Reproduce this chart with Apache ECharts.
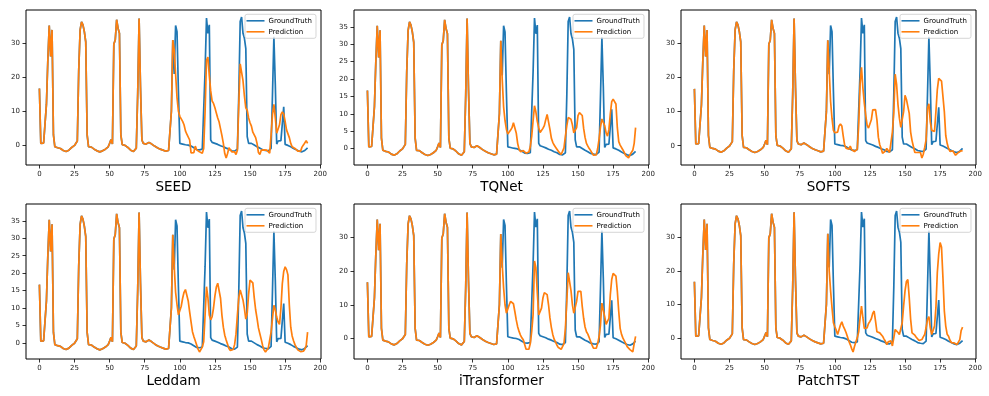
<!DOCTYPE html>
<html lang="en">
<head>
<meta charset="UTF-8">
<title>GroundTruth vs Prediction</title>
<style>
    html, body { margin: 0; padding: 0; background: #fff; }
    #chart { width: 989px; height: 396px; }
</style>
</head>
<body>
<div id="chart"></div>
<script src="https://cdn.jsdelivr.net/npm/echarts@6/dist/echarts.min.js"></script>
<script>
    var models = ['SEED', 'TQNet', 'SOFTS', 'Leddam', 'iTransformer', 'PatchTST'];
    var xTicks = [0, 25, 50, 75, 100, 125, 150, 175, 200];
    var yTickSteps = [10, 5, 10, 5, 10, 10];

    // input window, steps 0..95 (prediction line overlaps ground truth here)
    var lookback = [
        16.7, 0.5, 0.4, 0.6, 0.9, 12, 25, 35.3, 26.2, 34, 3, -0.5,
        -0.6, -0.8, -0.9, -1.0, -1.3, -1.6, -1.8, -1.9, -1.8, -1.5, -1.0, -0.7,
        -0.4, -0.1, 0.4, 1.2, 22, 34, 36.4, 35.5, 33.5, 30.5, 3, -0.5,
        -0.5, -0.6, -0.9, -1.2, -1.5, -1.7, -1.9, -2.0, -1.9, -1.7, -1.5, -1.2,
        -0.9, -0.5, 0.5, 1.6, 0.3, 29.8, 31, 37, 34.5, 33, 3, 0.1,
        0.0, -0.1, -0.3, -0.7, -1.1, -1.5, -1.8, -1.9, -1.6, -0.9, 15, 37.4,
        17, 1.5, 0.5, 0.6, 0.3, 0.5, 0.8, 0.6, 0.3, 0.0, -0.3, -0.5,
        -0.8, -1.0, -1.2, -1.4, -1.5, -1.7, -1.8, -1.8, -1.6, -1.2, 10, 31
    ];

    // steps 96..191
    var truthFuture = [
        21, 35.3, 33.5, 16, 0.5, 0.4, 0.3, 0.3, 0.1, 0.2, 0.0, -0.2,
        -0.3, -0.5, -0.8, -1.0, -1.3, -1.5, -1.4, -1.5, -1.2, -0.8, 22, 37.5,
        33, 35.5, 1.5, 0.8, 0.6, 0.5, 0.3, 0.2, 0.0, -0.2, -0.3, -0.5,
        -0.6, -0.9, -1.1, -1.2, -1.3, -1.7, -1.8, -1.8, -1.6, -1.2, 15, 36.5,
        37.8, 33, 31.5, 28.5, 2.5, 0.5, 0.6, 0.5, 0.3, 0.0, -0.2, -0.5,
        -0.7, -0.9, -1.1, -1.4, -1.5, -1.6, -1.7, -1.7, -1.5, -1.0, 15, 32,
        18, 0.3, 1.2, 1.0, 1.3, 1.2, 11.3, 0.2, 0.0, -0.1, -0.3, -0.5,
        -0.8, -1.0, -1.2, -1.4, -1.6, -1.8, -2.0, -2.0, -1.9, -1.6, -1.2, -0.8
    ];

    var seedPred = [
        28, 21, 14, 10, 8.5, 8.5, 7, 6, 4.2, 3.2, 3, 1.5,
        -2.3, -2.8, -2.2, -0.3, -1.4, -1.5, -2, -1.5, -2.4, -1, 10, 25,
        26, 20.5, 16, 13, 12.3, 11, 9.5, 8, 6.8, 4.8, 2.8, 0.5,
        -2.5, -3.8, -2.5, -0.8, -1, -2, -1.8, -2, -2.8, -1.5, 12, 24,
        23.5, 19, 14.5, 11, 10.3, 8, 6.6, 5.6, 3.8, 4, 2.2, 0.5,
        -2.2, -2.8, -1.5, -1.5, -1.4, -1.5, -1.5, -1.8, -2.4, 3, 9, 12,
        8, 3.5, 3.4, 6, 9, 9.8, 9.2, 7, 4.5, 4.6, 2.2, 0.5,
        -0.5, -0.7, -1, -1.3, -1.8, -2, -1.8, -0.6, 0, 0.5, 1.3, 0.5
    ];

    var tqnetPred = [
        20, 12, 8, 5.5, 4.2, 4.6, 5.3, 6, 7.4, 7.2, 4.5, 1.5,
        -0.2, -0.9, -1.3, -0.6, -1.0, -1.3, -1.5, -1.0, 0.5, 3.5, 8, 12.3,
        10.5, 7.8, 6, 4.6, 4.8, 5.8, 6.6, 8.3, 9.8, 9.6, 5.5, 3,
        1.8, 1.0, 0.4, -0.2, -0.8, -1.3, -1.7, -1.5, 0.2, 3.5, 6.5, 8.9,
        8.7, 8.4, 6.8, 4.5, 4.2, 6, 9.5, 10.3, 9.8, 9.5, 5.8, 3.2,
        1.5, 0.7, 0, -0.6, -1.3, -1.9, -2.4, -1.8, 0, 2.8, 6.2, 8.5,
        8.9, 6.6, 4.5, 3.6, 5.5, 10, 13.5, 14.2, 13.7, 12.8, 6, 2,
        1, 0.7, -0.4, -1.2, -2, -2.5, -2.7, -1.8, -1.5, -0.5, 1.5, 6
    ];

    var softsPred = [
        22, 13, 8, 4.5, 3.8, 3.7, 4, 5.8, 6.4, 5.8, 2.8, 0.2,
        -0.7, -0.8, -1.0, -0.1, -1.2, -1.7, -1.7, -1.3, -1.0, 6, 18, 23,
        17, 12.5, 9, 6, 5.2, 5.3, 7.6, 10.5, 10.3, 10.6, 7.6, 2.5,
        0.3, -0.8, -2.2, -2.1, -1.6, -0.8, -1.2, -2.0, -1.5, 4, 9.6, 21,
        18, 12, 8.1, 5.4, 5.7, 10, 14.8, 13.6, 13.8, 9.5, 4, 1.5,
        -0.3, -2.0, -2.2, -2.0, -2.4, -2.0, -3.6, -2.5, -0.5, 1.7, 11, 12.3,
        7, 4.5, 4.0, 4.2, 10, 16.5, 19.8, 19.5, 19, 18.6, 10, 3,
        0.7, -0.8, -1.7, -1.3, -1.5, -2, -2.8, -3.1, -2, -1.6, -1.5, -1.5
    ];

    var leddamPred = [
        22, 14.5, 11, 8, 7.5, 10.5, 12.8, 14.5, 15.3, 15.4, 12, 8.9,
        6, 3.2, 1.8, 0.6, -0.6, -1.8, -2.6, -2.3, -1.2, 0.3, 8, 16.1,
        13, 8, 6.6, 7.5, 10, 13.5, 16, 17.1, 16.8, 12.8, 7.9, 4.5,
        2.2, 0.8, -0.4, -1.6, -2.2, -2.4, -1.9, -0.5, 2.5, 8, 13, 15.2,
        15.2, 12.3, 9.8, 6.8, 8.5, 14, 18, 18.5, 17.2, 13, 9.5, 7,
        4.3, 2.6, 1, -0.8, -2, -2.6, -2.6, -1.5, 0.8, 3.1, 7, 10.8,
        9.5, 7.4, 6, 5.3, 9.9, 17, 20.5, 21.8, 21, 19.5, 10.8, 4.5,
        2, 0.6, -0.5, -1.3, -2.0, -2.4, -2.5, -2.5, -2.4, -1.8, -0.8, 3.1
    ];

    var itransformerPred = [
        22, 15, 10, 7.5, 7.5, 10, 11, 11.1, 10.3, 8, 5.5, 3.5,
        2.1, 1.0, 0.2, -0.4, -1.8, -3.2, -3.7, -3.2, -1.5, 2, 7, 23,
        21, 13.5, 7, 7, 9, 12, 13.6, 13.6, 13, 10, 6.1, 3.3,
        1.2, -0.2, -1.1, -2, -2.7, -3.0, -3.2, -3.4, -1.5, 3, 11, 19.5,
        19, 14.2, 10, 7.5, 7.5, 11, 14, 14.5, 14, 9.5, 6, 3.4,
        2, 1.3, 0.2, -0.3, -2, -2.9, -2.9, -2.9, -1.5, 0.5, 4, 10.5,
        10, 6.5, 4.2, 3.9, 6, 13, 17.5, 19.3, 19.2, 18.5, 14, 8,
        3, 1.2, 0.1, -0.7, -1.5, -2.4, -2.5, -3.3, -3.5, -4, -1.5, 0.6
    ];

    var patchtstPred = [
        20, 14, 9, 4.5, 3.3, 2.3, 1, 1.5, 3.8, 4.8, 3.5, 2.6,
        1.6, 0.3, -1, -2, -3.2, -4.2, -2.6, -1.2, 0, 1.8, 6, 9.5,
        6, 2.8, 2.6, 3, 4.3, 4.9, 5.7, 7.3, 8, 5, 1.8, 1.3,
        1.5, 1.5, 0.5, -0.3, -1, -2, -1.2, -1.5, -0.9, -2.4, 0, 2.5,
        2.2, 1.6, 1, 1.5, 4.5, 9.5, 14, 16.8, 17.4, 12, 5.5, 1.5,
        1, 0.8, 0.2, -0.3, -0.8, -1, -0.5, 0.3, 1, 3, 5.5, 6.3,
        3, 1, 1.2, 3.5, 9, 19.5, 25, 28.4, 27, 18, 8, 3.5,
        1.1, 0.5, -0.7, -1.4, -1.3, -1.5, -1.8, -2, -1.5, -0.5, 2.2, 3.2
    ];

    var predictions = [seedPred, tqnetPred, softsPred, leddamPred, itransformerPred, patchtstPred];

    var FONT = 'DejaVu Sans';
    var BLUE = '#1f77b4';
    var ORANGE = '#ff7f0e';
    // left, top of each panel (px)
    var gridPos = [[26, 10], [354, 10], [681, 10], [26, 204], [354, 204], [681, 204]];
    var gridW = 295, gridH = 155;

    function toPoints(arr) {
        return arr.map(function(v, i) { return [i, v]; });
    }

    var option = {
        backgroundColor: '#fff',
        animation: false,
        grid: [], xAxis: [], yAxis: [], series: [], legend: []
    };

    models.forEach(function(name, k) {
        var truth = lookback.concat(truthFuture);
        var pred = lookback.concat(predictions[k]);
        var all = truth.concat(pred);
        var dmin = Math.min.apply(null, all), dmax = Math.max.apply(null, all);
        var pad = (dmax - dmin) * 0.05;
        var ymin = dmin - pad, ymax = dmax + pad;
        var step = yTickSteps[k];
        var yTicks = [];
        for (var t = Math.ceil(ymin / step) * step; t <= ymax; t += step) yTicks.push(t);

        var left = gridPos[k][0], top = gridPos[k][1];
        option.grid.push({
            left: left, top: top, width: gridW, height: gridH,
            show: true, borderColor: '#000', borderWidth: 1, containLabel: false
        });
        option.xAxis.push({
            type: 'value', gridIndex: k, min: -9.55, max: 200.55,
            name: name, nameLocation: 'middle', nameGap: 15,
            nameTextStyle: { fontFamily: FONT, fontSize: 13.5, color: '#000', verticalAlign: 'top' },
            axisLine: { show: false, onZero: false },
            splitLine: { show: false },
            axisTick: { show: true, length: 3.5, customValues: xTicks, lineStyle: { color: '#000', width: 0.8 } },
            axisLabel: { customValues: xTicks, margin: 5.5, fontFamily: FONT, fontSize: 7, color: '#222' }
        });
        option.yAxis.push({
            type: 'value', gridIndex: k, min: ymin, max: ymax,
            axisLine: { show: false, onZero: false },
            splitLine: { show: false },
            axisTick: { show: true, length: 3.5, customValues: yTicks, lineStyle: { color: '#000', width: 0.8 } },
            axisLabel: { customValues: yTicks, margin: 6, fontFamily: FONT, fontSize: 7, color: '#222' }
        });
        option.series.push({
            name: 'GroundTruth', type: 'line', xAxisIndex: k, yAxisIndex: k,
            data: toPoints(truth), symbol: 'none', showSymbol: false,
            color: BLUE, lineStyle: { color: BLUE, width: 1.7 }, z: 2
        });
        option.series.push({
            name: 'Prediction', type: 'line', xAxisIndex: k, yAxisIndex: k,
            data: toPoints(pred), symbol: 'none', showSymbol: false,
            color: ORANGE, lineStyle: { color: ORANGE, width: 1.7 }, z: 3
        });
        option.legend.push({
            data: ['GroundTruth', 'Prediction'],
            orient: 'vertical',
            left: left + gridW - 76, top: top + 4.3,
            icon: 'rect', itemWidth: 18, itemHeight: 1.6, itemGap: 3,
            padding: [2.5, 4, 2.5, 1.5],
            backgroundColor: 'rgba(255,255,255,0.8)',
            borderColor: '#cccccc', borderWidth: 0.8, borderRadius: 2,
            textStyle: { fontFamily: FONT, fontSize: 7, color: '#000', lineHeight: 8, padding: [0, 0, 0, -1] },
            selectedMode: false
        });
    });

    var chart = echarts.init(document.getElementById('chart'));
    chart.setOption(option);
</script>
</body>
</html>
